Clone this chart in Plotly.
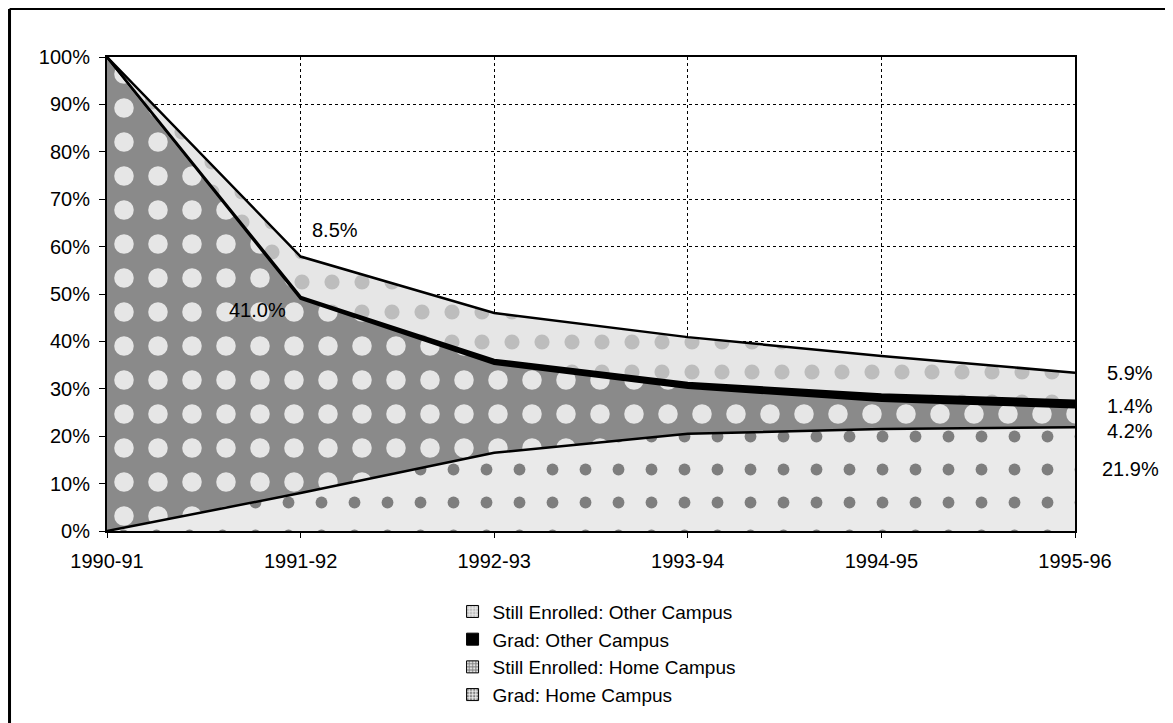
import plotly.graph_objects as go

years = ["1990-91", "1991-92", "1992-93", "1993-94", "1994-95", "1995-96"]
grad_home = [0.0, 8.0, 16.5, 20.5, 21.5, 21.9]
still_home = [100.0, 41.0, 18.8, 9.7, 6.0, 4.2]
grad_other = [0.0, 0.4, 0.8, 1.0, 1.3, 1.4]
still_other = [0.0, 8.5, 9.9, 9.7, 8.1, 5.9]

series_names = ["Grad: Home Campus", "Still Enrolled: Home Campus",
                "Grad: Other Campus", "Still Enrolled: Other Campus"]

label_texts = ["8.5%", "41.0%", "5.9%", "1.4%", "4.2%", "21.9%"]

FONT = "Liberation Sans, Arial, sans-serif"
FS = 20

styles = {
    "Grad: Home Campus": dict(bgcolor="#eaeaea", fgcolor="#7e7e7e", shape=".", size=33, solidity=0.1),
    "Still Enrolled: Home Campus": dict(bgcolor="#8a8a8a", fgcolor="#e6e6e6", shape=".", size=34, solidity=0.26),
    "Grad: Other Campus": None,
    "Still Enrolled: Other Campus": dict(bgcolor="#e6e6e6", fgcolor="#bdbdbd", shape=".", size=30, solidity=0.2),
}

fig = go.Figure()

for name, vals in zip(series_names, [grad_home, still_home, grad_other, still_other]):
    st = styles[name]
    kw = dict(x=years, y=vals, name=name, mode="lines", stackgroup="one",
              line=dict(color="black", width=2.5), showlegend=False, hoverinfo="skip")
    if st is None:
        kw["fillcolor"] = "black"
    else:
        kw["fillcolor"] = st["bgcolor"]
        kw["fillpattern"] = dict(shape=st["shape"], bgcolor=st["bgcolor"], fgcolor=st["fgcolor"],
                                 size=st["size"], solidity=st["solidity"], fillmode="replace")
    fig.add_trace(go.Scatter(**kw))

# legend entries (square swatches)
for name in reversed(series_names):
    st = styles[name]
    if st is None:
        marker = dict(color="black", line=dict(color="black", width=1))
    else:
        marker = dict(color=st["bgcolor"], line=dict(color="black", width=1),
                      pattern=dict(shape=st["shape"], bgcolor=st["bgcolor"], fgcolor=st["fgcolor"],
                                   size=4, solidity=0.4, fillmode="replace"))
    fig.add_trace(go.Bar(x=[years[0]], y=[None], name=name, marker=marker, showlegend=True,
                         hoverinfo="skip"))

# annotations
ann_font = dict(family=FONT, size=FS, color="black")
fig.add_annotation(x=1.18, y=63.5, xref="x", yref="y", text=label_texts[0], showarrow=False,
                   font=ann_font, xanchor="center")
fig.add_annotation(x=0.775, y=46.6, xref="x", yref="y", text=label_texts[1], showarrow=False,
                   font=ann_font, xanchor="center")
for txt, yv in zip(label_texts[2:], [33.3, 26.4, 21.1, 13.1]):
    fig.add_annotation(x=1.057, y=yv, xref="paper", yref="y", text=txt, showarrow=False,
                       font=ann_font, xanchor="center")

# outer frame lines (left and top)
fig.add_shape(type="line", xref="paper", yref="paper", x0=-0.1007, x1=-0.1007, y0=1.1013, y1=-0.41,
              line=dict(color="black", width=3))
fig.add_shape(type="line", xref="paper", yref="paper", x0=-0.1007, x1=1.098, y0=1.1013, y1=1.1013,
              line=dict(color="black", width=2))

fig.update_layout(
    width=1165, height=715,
    margin=dict(l=99, r=98, t=49, b=192, autoexpand=False),
    paper_bgcolor="white", plot_bgcolor="white",
    font=dict(family=FONT, size=FS, color="black"),
    showlegend=True,
    legend=dict(x=0.357, y=-0.130, xanchor="left", yanchor="top", orientation="v",
                font=dict(family=FONT, size=19, color="black"),
                bgcolor="rgba(0,0,0,0)", traceorder="normal", tracegroupgap=0,
                itemwidth=30),
)

fig.update_xaxes(type="category", range=[0, 5], showgrid=True, gridcolor="black", griddash="dot",
                 gridwidth=1, showline=True, linecolor="black", linewidth=2, mirror=True,
                 ticks="outside", ticklen=5, tickcolor="black", tickfont=dict(size=FS),
                 ticklabelstandoff=6, zeroline=False, automargin=False)
fig.update_yaxes(range=[0, 100], dtick=10, ticksuffix="%", showgrid=True, gridcolor="black",
                 griddash="dot", gridwidth=1, showline=True, linecolor="black", linewidth=2,
                 mirror=True, ticks="outside", ticklen=6, tickcolor="black", tickfont=dict(size=FS),
                 ticklabelstandoff=5, zeroline=False, automargin=False)

fig.write_html("out.html")
